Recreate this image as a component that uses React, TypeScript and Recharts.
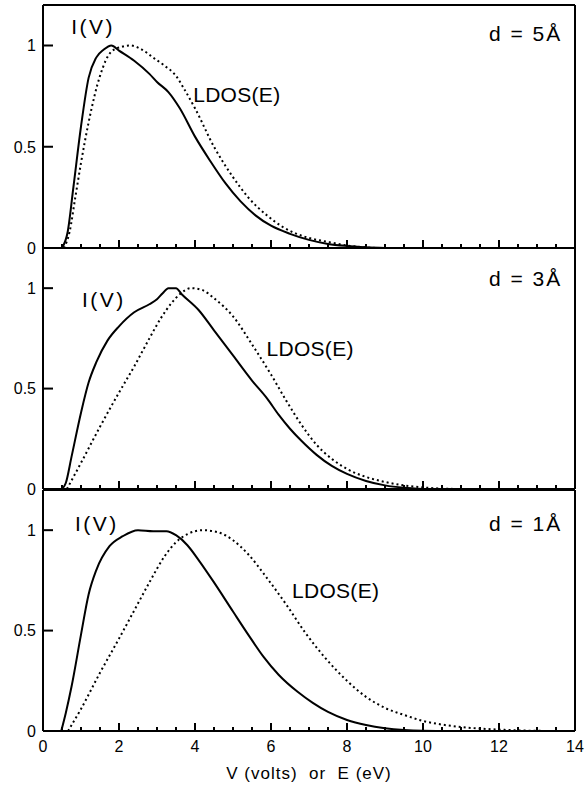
import React from "react";
import {
  LineChart, Line, XAxis, YAxis, ReferenceDot, Label,
} from "recharts";

// tick values shared by all three panels
const X_TICKS = [0, 0.5, 1, 1.5, 2, 2.5, 3, 3.5, 4, 4.5, 5, 5.5, 6, 6.5, 7, 7.5, 8, 8.5, 9, 9.5, 10, 10.5, 11, 11.5, 12, 12.5, 13, 13.5, 14];
const Y_TICKS = [0, 0.5, 1];

// d = 5 Å
const V5 = [0.5, 0.65, 0.8, 1.0, 1.2, 1.4, 1.6, 1.8, 2.0, 2.4, 2.8, 3.0, 3.3, 3.6, 4.0, 4.4, 4.8, 5.2, 5.6, 6.0, 6.5, 7.0, 7.5, 8.0, 8.5, 9.0];
const I5 = [0, 0.08, 0.3, 0.6, 0.84, 0.94, 0.98, 1.0, 0.975, 0.925, 0.86, 0.82, 0.77, 0.69, 0.55, 0.43, 0.32, 0.23, 0.16, 0.11, 0.07, 0.04, 0.02, 0.01, 0.004, 0];
const E5 = [0.55, 0.7, 0.85, 1.0, 1.2, 1.5, 1.8, 2.1, 2.3, 2.6, 2.9, 3.2, 3.5, 3.7, 4.0, 4.5, 5.0, 5.4, 5.9, 6.3, 6.9, 7.5, 8.1, 8.8];
const L5 = [0, 0.08, 0.25, 0.42, 0.62, 0.85, 0.97, 0.995, 1.0, 0.98, 0.94, 0.9, 0.85, 0.79, 0.69, 0.5, 0.35, 0.25, 0.16, 0.105, 0.055, 0.03, 0.01, 0];

// d = 3 Å
const V3 = [0.5, 0.6, 0.75, 1.0, 1.2, 1.4, 1.7, 2.0, 2.4, 2.8, 3.0, 3.15, 3.3, 3.5, 3.65, 4.1, 4.5, 5.0, 5.5, 5.9, 6.2, 6.5, 6.8, 7.2, 7.6, 8.0, 8.5, 9.0, 9.5, 10.0];
const I3 = [0, 0.03, 0.16, 0.38, 0.53, 0.63, 0.74, 0.81, 0.88, 0.92, 0.945, 0.975, 1.0, 1.0, 0.97, 0.89, 0.79, 0.665, 0.54, 0.45, 0.37, 0.3, 0.24, 0.17, 0.115, 0.075, 0.04, 0.018, 0.006, 0];
const E3 = [0.63, 1.0, 1.5, 2.0, 2.4, 2.8, 3.1, 3.4, 3.6, 3.9, 4.2, 4.5, 5.0, 5.5, 6.0, 6.4, 6.8, 7.2, 7.6, 8.0, 8.5, 9.0, 9.5, 10.0, 10.5, 11.0];
const L3 = [0, 0.13, 0.31, 0.48, 0.61, 0.75, 0.85, 0.93, 0.97, 1.0, 0.99, 0.95, 0.86, 0.72, 0.57, 0.44, 0.32, 0.22, 0.15, 0.1, 0.06, 0.035, 0.018, 0.008, 0.002, 0];

// d = 1 Å
const V1 = [0.48, 0.6, 0.75, 1.0, 1.2, 1.4, 1.75, 2.1, 2.5, 2.9, 3.25, 3.5, 3.8, 4.1, 4.5, 5.0, 5.4, 5.8, 6.2, 6.7, 7.1, 7.5, 8.0, 8.5, 9.0, 9.5, 10.0, 10.5];
const I1 = [0, 0.09, 0.22, 0.48, 0.68, 0.8, 0.92, 0.97, 1.0, 0.995, 0.995, 0.975, 0.925, 0.85, 0.74, 0.595, 0.48, 0.37, 0.28, 0.195, 0.14, 0.095, 0.055, 0.03, 0.014, 0.005, 0.001, 0];
const E1 = [0.66, 1.0, 1.5, 2.0, 2.4, 2.8, 3.2, 3.5, 3.8, 4.2, 4.6, 5.0, 5.4, 5.9, 6.4, 6.9, 7.4, 8.0, 8.5, 9.0, 9.5, 10.0, 10.5, 11.0, 11.5, 12.0, 12.5, 13.0, 13.5];
const L1 = [0, 0.11, 0.29, 0.46, 0.6, 0.74, 0.87, 0.94, 0.98, 1.0, 0.99, 0.95, 0.88, 0.76, 0.63, 0.49, 0.37, 0.25, 0.17, 0.115, 0.08, 0.05, 0.032, 0.02, 0.012, 0.007, 0.003, 0.001, 0];

const zip = (xs: number[], ys: number[]) => xs.map((x, i) => ({ x, y: ys[i] }));

const FONT = "'Liberation Sans', Arial, Helvetica, sans-serif";

// axes are 1px boxes (a 0-size axis is not drawn); svgs overlap so the "0" labels on shared borders are not clipped
const PANELS = [
  {
    d: "d = 5Å", iv: zip(V5, I5), ldos: zip(E5, L5),
    top: 0, height: 258, margin: { top: 4, right: 9, bottom: 9, left: 0 }, axisH: 1,
    ivAt: [1.32, 1.095], ldosAt: [5.1, 0.756], dAt: [12.7, 1.06],
  },
  {
    d: "d = 3Å", iv: zip(V3, I3), ldos: zip(E3, L3),
    top: 238, height: 262, margin: { top: 9, right: 9, bottom: 10, left: 0 }, axisH: 1,
    ivAt: [1.6, 0.945], ldosAt: [7.03, 0.7], dAt: [12.7, 1.05],
  },
  {
    d: "d = 1Å", iv: zip(V1, I1), ldos: zip(E1, L1),
    top: 480, height: 305, margin: { top: 9, right: 9, bottom: 0, left: 0 }, axisH: 54,
    ivAt: [1.42, 1.035], ldosAt: [7.7, 0.7], dAt: [12.7, 1.035],
  },
];

function XTick(props: any) {
  const { x, y, payload, showLabel } = props;
  const v = payload.value;
  const major = v % 2 === 0;
  return (
    <g>
      <line x1={x} x2={x} y1={y - (major ? 8 : 4)} y2={y} stroke="#000" strokeWidth={2} />
      {showLabel && major && (
        <text x={x} y={y + 21} textAnchor="middle" fontSize={16} fill="#000" fontFamily={FONT}>{v}</text>
      )}
    </g>
  );
}

function YTick(props: any) {
  const { x, y, payload } = props;
  return (
    <g>
      <rect x={x} y={y - 1} width={10} height={2} fill="#000" />
      <text x={x - 7} y={y} dy="0.36em" textAnchor="end" fontSize={16} fill="#000" fontFamily={FONT}>{payload.value}</text>
    </g>
  );
}

const annot = (value: string, spacing: number) => ({
  value, position: "center" as const, fontSize: 21, fill: "#000", fontFamily: FONT,
  style: { letterSpacing: `${spacing}px` },
});

const AXIS_LINE = { stroke: "#000", strokeWidth: 2 };

export default function App() {
  return (
    <div style={{ position: "absolute", left: 0, top: 0, width: 585, height: 785, background: "#fff", fontFamily: FONT }}>
      {PANELS.map((p, i) => (
        <div key={i} style={{ position: "absolute", left: 0, top: p.top }}>
          <LineChart width={585} height={p.height} margin={p.margin}>
            <XAxis
              type="number" dataKey="x" domain={[0, 14]} ticks={X_TICKS} interval={0}
              height={p.axisH} axisLine={AXIS_LINE} tickLine={false}
              tickSize={0} tickMargin={0} allowDataOverflow
              tick={<XTick showLabel={i === 2} />}
            >
              {i === 2 && (
                <Label value={"V\u00a0(volts)\u00a0\u00a0or\u00a0\u00a0E\u00a0(eV)"} position="insideBottom" offset={6}
                  fontSize={17} fill="#000" fontFamily={FONT} style={{ letterSpacing: "1px" }} />
              )}
            </XAxis>
            <XAxis xAxisId="top" orientation="top" type="number" dataKey="x" domain={[0, 14]}
              height={1} axisLine={AXIS_LINE} tick={false} tickLine={false} allowDataOverflow />
            <YAxis
              type="number" domain={[0, 1.2]} ticks={Y_TICKS} interval={0} width={43}
              axisLine={AXIS_LINE} tickLine={false}
              tickSize={0} tickMargin={0} allowDataOverflow tick={<YTick />}
            />
            <YAxis yAxisId="right" orientation="right" type="number" domain={[0, 1.2]} width={1}
              axisLine={AXIS_LINE} tick={false} tickLine={false} allowDataOverflow />
            <Line data={p.ldos} dataKey="y" type="monotone" stroke="#000" strokeWidth={2}
              strokeDasharray="2 3" dot={false} isAnimationActive={false} />
            <Line data={p.iv} dataKey="y" type="monotone" stroke="#000" strokeWidth={2}
              dot={false} isAnimationActive={false} />
            <ReferenceDot x={p.ivAt[0]} y={p.ivAt[1]} r={0} stroke="none" fill="none" label={annot("I(V)", 2.5)} />
            <ReferenceDot x={p.ldosAt[0]} y={p.ldosAt[1]} r={0} stroke="none" fill="none" label={annot("LDOS(E)", 0.3)} />
            <ReferenceDot x={p.dAt[0]} y={p.dAt[1]} r={0} stroke="none" fill="none" label={annot(p.d, 2)} />
          </LineChart>
        </div>
      ))}
    </div>
  );
}
